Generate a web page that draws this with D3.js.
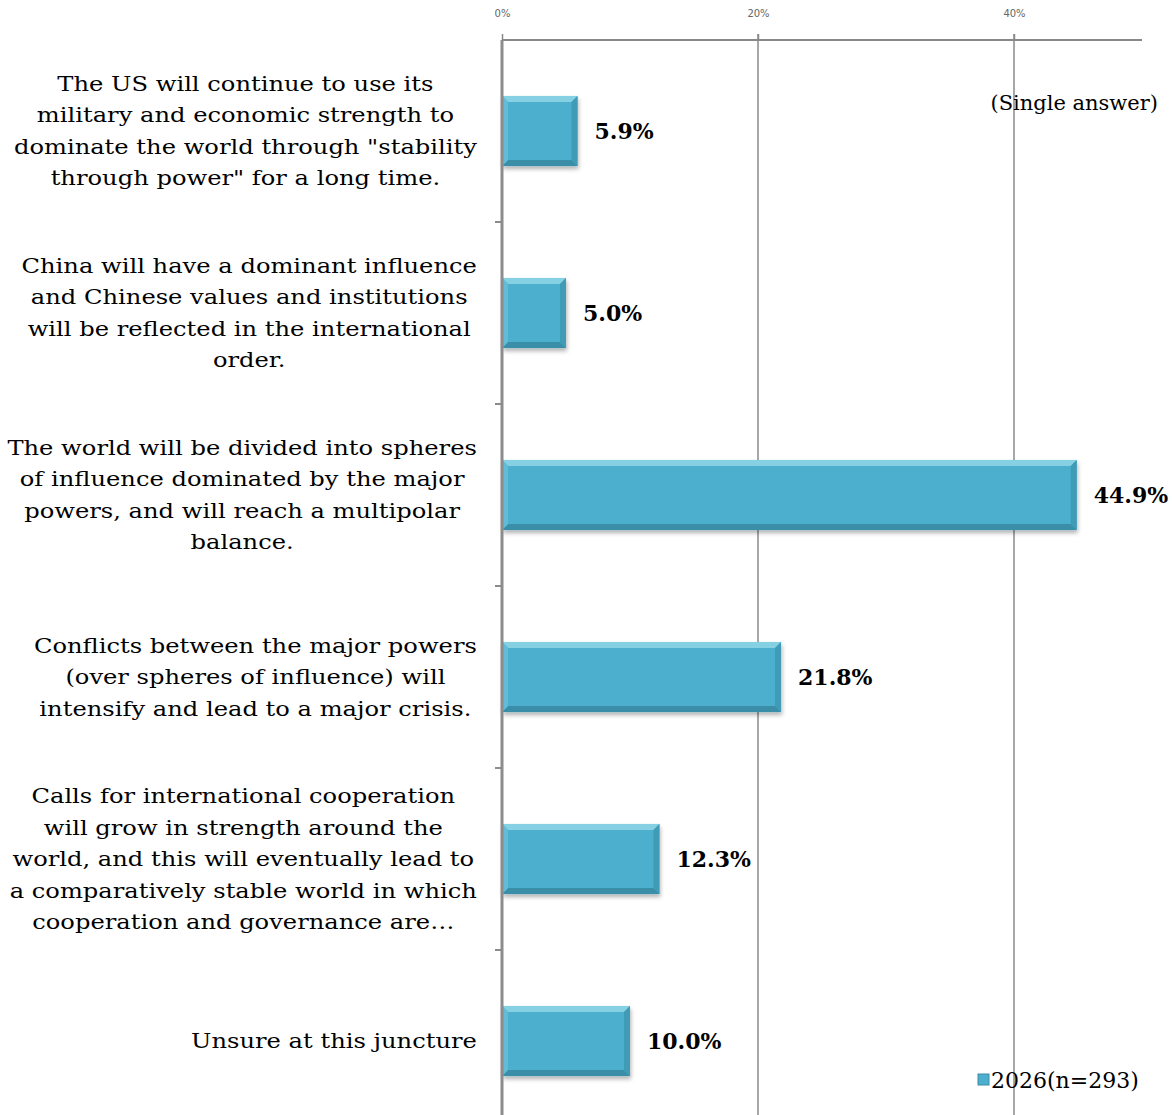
<!DOCTYPE html>
<html>
<head>
<meta charset="utf-8">
<script src="https://cdn.jsdelivr.net/npm/d3@7"></script>
<style>
  body { margin: 0; background: #fff; }
  svg { display: block; }
</style>
</head>
<body>
<svg width="1172" height="1115"></svg>
<script>
// categories (line breaks as in the picture)
const categories = [
    ["The US will continue to use its", "military and economic strength to", "dominate the world through \"stability", "through power\" for a long time."],
    ["China will have a dominant influence", "and Chinese values and institutions", "will be reflected in the international", "order."],
    ["The world will be divided into spheres", "of influence dominated by the major", "powers, and will reach a multipolar", "balance."],
    ["Conflicts between the major powers", "(over spheres of influence) will", "intensify and lead to a major crisis."],
    ["Calls for international cooperation", "will grow in strength around the", "world, and this will eventually lead to", "a comparatively stable world in which", "cooperation and governance are…"],
    ["Unsure at this juncture"]
];
const values = [5.9, 5.0, 44.9, 21.8, 12.3, 10.0];
const xTicks = [0, 20, 40];
const seriesName = "2026(n=293)";
const note = "(Single answer)";

const svg = d3.select("svg");
const serif = "'DejaVu Serif', serif";
const stretch = 1.21; // labels in the picture are drawn wide

// scales
const x = d3.scaleLinear().domain([0, 50]).range([502, 1142]);
const y = d3.scaleBand()
    .domain(d3.range(categories.length))
    .range([40, 1132])
    .paddingInner(0.615)
    .paddingOuter(0.3075);

// drop shadow for the bars
const defs = svg.append("defs");
defs.append("filter").attr("id", "shadow")
    .attr("x", "-10%").attr("y", "-20%").attr("width", "130%").attr("height", "160%")
    .append("feDropShadow")
    .attr("dx", 1).attr("dy", 3).attr("stdDeviation", 2)
    .attr("flood-color", "#000").attr("flood-opacity", 0.3);

// gridlines
svg.append("g")
    .selectAll("line")
    .data(xTicks.filter(d => d > 0))
    .join("line")
    .attr("x1", d => x(d)).attr("x2", d => x(d))
    .attr("y1", 34).attr("y2", 1115)
    .attr("stroke", "#8a8a8a").attr("stroke-width", 1.5);

// top axis
const xAxis = svg.append("g")
    .attr("transform", "translate(0,40)")
    .call(d3.axisTop(x).tickValues(xTicks).tickFormat(d => d + "%").tickSize(6).tickPadding(17));
xAxis.select(".domain").attr("stroke", "#888").attr("stroke-width", 2).attr("d", "M502,0H1142");
xAxis.selectAll(".tick line").attr("stroke", "#888").attr("stroke-width", 1.5);
xAxis.selectAll(".tick text")
    .attr("fill", "#666")
    .style("font-family", "'DejaVu Sans', sans-serif")
    .style("font-size", "10px");

// bars
const bars = svg.append("g")
    .selectAll("g")
    .data(values)
    .join("g");

bars.append("rect")
    .attr("x", x(0))
    .attr("y", (d, i) => y(i))
    .attr("width", d => x(d) - x(0))
    .attr("height", y.bandwidth())
    .attr("fill", "#4bafcd")
    .attr("filter", "url(#shadow)");

// bevel edges
const b = 6;
const bevel = [
    { fill: "#86d0e4", pts: (x0, x1, y0, y1) => [[x0, y0], [x1, y0], [x1 - b, y0 + b], [x0 + b, y0 + b]] },
    { fill: "#3a8ea8", pts: (x0, x1, y0, y1) => [[x0, y1], [x1, y1], [x1 - b, y1 - b], [x0 + b, y1 - b]] },
    { fill: "#3f9bb6", pts: (x0, x1, y0, y1) => [[x1, y0], [x1, y1], [x1 - b, y1 - b], [x1 - b, y0 + b]] },
    { fill: "#62bcd6", pts: (x0, x1, y0, y1) => [[x0, y0], [x0, y1], [x0 + b, y1 - b], [x0 + b, y0 + b]] }
];
bars.each(function (d, i) {
    const g = d3.select(this);
    const x0 = x(0), x1 = x(d), y0 = y(i), y1 = y(i) + y.bandwidth();
    bevel.forEach(s => {
        g.append("polygon")
            .attr("points", s.pts(x0, x1, y0, y1).map(p => p.join(",")).join(" "))
            .attr("fill", s.fill);
    });
});

// value labels
bars.append("text")
    .attr("x", d => x(d) + 17)
    .attr("y", (d, i) => y(i) + y.bandwidth() / 2)
    .attr("dy", "0.35em")
    .style("font-family", serif)
    .style("font-weight", "bold")
    .style("font-size", "22px")
    .attr("fill", "#000")
    .text(d => d3.format(".1f")(d) + "%");

// left axis line and ticks
svg.append("line")
    .attr("x1", x(0)).attr("x2", x(0))
    .attr("y1", 40).attr("y2", 1115)
    .attr("stroke", "#8c8c8c").attr("stroke-width", 3);

svg.append("g")
    .selectAll("line")
    .data(d3.range(1, categories.length))
    .join("line")
    .attr("x1", x(0) - 7).attr("x2", x(0))
    .attr("y1", i => y(i) - y.step() * y.paddingInner() / 2)
    .attr("y2", i => y(i) - y.step() * y.paddingInner() / 2)
    .attr("stroke", "#8c8c8c").attr("stroke-width", 2);

// category labels: centered lines, block right-aligned
const lineH = 31.5;
const labels = svg.append("g")
    .selectAll("g")
    .data(categories)
    .join("g");

labels.each(function (lines, i) {
    const g = d3.select(this);
    const cy = y(i) + y.bandwidth() / 2;
    const t = g.selectAll("text")
        .data(lines)
        .join("text")
        .attr("dy", "0.35em")
        .attr("text-anchor", "middle")
        .style("font-family", serif)
        .style("font-size", "20px")
        .attr("fill", "#000")
        .text(d => d);
    let maxW = 0;
    t.each(function () { maxW = Math.max(maxW, this.getComputedTextLength()); });
    const cx = 477 - maxW * stretch / 2;
    t.attr("transform", (d, j) =>
        "translate(" + cx + "," + (cy + (j - (lines.length - 1) / 2) * lineH) + ") scale(" + stretch + ",1)");
});

// note
svg.append("text")
    .attr("x", 1158).attr("y", 103)
    .attr("dy", "0.35em")
    .attr("text-anchor", "end")
    .style("font-family", serif)
    .style("font-size", "21px")
    .text(note);

// legend
const legend = svg.append("g").attr("transform", "translate(978,1080)");
legend.append("rect")
    .attr("x", 0).attr("y", -6).attr("width", 11).attr("height", 11)
    .attr("fill", "#4bafcd").attr("stroke", "#3a8ea8").attr("stroke-width", 1);
legend.append("text")
    .attr("x", 13).attr("dy", "0.35em")
    .style("font-family", serif)
    .style("font-size", "22px")
    .text(seriesName);
</script>
</body>
</html>
